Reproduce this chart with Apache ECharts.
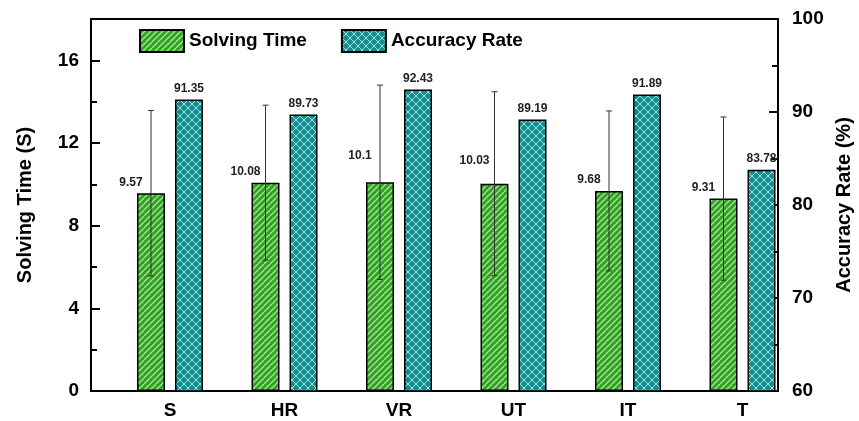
<!DOCTYPE html>
<html>
<head>
<meta charset="utf-8">
<script src="https://cdn.jsdelivr.net/npm/echarts@6/dist/echarts.min.js"></script>
<style>html,body{margin:0;padding:0;background:#fff;}#c{width:859px;height:421px;}</style>
</head>
<body>
<div id="c"></div>
<script>
var categories = ['S', 'HR', 'VR', 'UT', 'IT', 'T'];
var solvingTime = [9.57, 10.08, 10.1, 10.03, 9.68, 9.31];
var solvingTimeErr = [4.0, 3.75, 4.7, 4.45, 3.87, 3.95];
var accuracyRate = [91.35, 89.73, 92.43, 89.19, 91.89, 83.78];
var leftTickLabels = [0, 4, 8, 12, 16];
var leftMinorTicks = [2, 6, 10, 14];

var FONT = 'Arial, "Liberation Sans", sans-serif';
var BAR_W = 28, BAR_GAP = 10;

function makePattern(bg, fg, size, both, lw) {
  var c = document.createElement('canvas');
  c.width = size; c.height = size;
  var g = c.getContext('2d');
  g.fillStyle = bg; g.fillRect(0, 0, size, size);
  g.strokeStyle = fg; g.lineWidth = lw;
  function seg(x1, y1, x2, y2) { g.beginPath(); g.moveTo(x1, y1); g.lineTo(x2, y2); g.stroke(); }
  for (var k = -1; k <= 1; k++) {
    seg(k * size, size, k * size + size, 0);
    if (both) seg(k * size, 0, k * size + size, size);
  }
  return c;
}
var greenPat = makePattern('#32a226', 'rgba(190,240,170,0.85)', 6, false, 1.3);
var tealPat = makePattern('#138d8d', 'rgba(175,235,235,0.9)', 8, true, 1);

var labelOffsetY = { VR: -16, UT: -12 };

var greenData = solvingTime.map(function (v, i) {
  return {
    value: [i + 1, v],
    label: { offset: [-20, labelOffsetY[categories[i]] || 0] }
  };
});
var tealData = accuracyRate.map(function (v, i) { return [i + 1, v]; });
var errData = solvingTime.map(function (v, i) { return [i + 1, v, solvingTimeErr[i]]; });

var chart = echarts.init(document.getElementById('c'), null, { renderer: 'canvas' });
var axisLine = { show: true, lineStyle: { color: '#000', width: 2 } };
var tickLabel = { color: '#000', fontSize: 19, fontWeight: 'bold', fontFamily: FONT };
var nameStyle = { color: '#000', fontSize: 20, fontWeight: 'bold', fontFamily: FONT };

chart.setOption({
  animation: false,
  backgroundColor: '#fff',
  grid: { left: 91, right: 81, top: 19, bottom: 30, containLabel: false, outerBoundsMode: 'none',
          show: true, borderColor: '#000', borderWidth: 2 },
  legend: {
    left: 134, top: 24, icon: 'rect', itemWidth: 44, itemHeight: 22, itemGap: 34,
    data: ['Solving Time', 'Accuracy Rate'],
    textStyle: { color: '#000', fontSize: 19, fontWeight: 'bold', fontFamily: FONT }
  },
  xAxis: {
    type: 'value', min: 0.31, max: 6.31,
    axisLine: axisLine,
    axisTick: { show: false },
    splitLine: { show: false },
    axisLabel: Object.assign({}, tickLabel, {
      customValues: categories.map(function (c, i) { return i + 1; }),
      formatter: function (v) { return categories[Math.round(v) - 1]; },
      margin: 10
    })
  },
  yAxis: [
    {
      type: 'value', min: 0, max: 18, position: 'left',
      name: 'Solving Time (S)', nameLocation: 'middle', nameGap: 56, nameTextStyle: nameStyle,
      axisLine: axisLine,
      axisTick: { show: true, inside: true, length: 9, customValues: leftTickLabels, lineStyle: { color: '#000', width: 2 } },
      axisLabel: Object.assign({}, tickLabel, { customValues: leftTickLabels, margin: 12 }),
      splitLine: { show: false }
    },
    {
      type: 'value', min: 60, max: 100, interval: 10, position: 'right',
      name: 'Accuracy Rate (%)', nameLocation: 'middle', nameGap: 56, nameRotate: 90, nameTextStyle: nameStyle,
      axisLine: axisLine,
      axisTick: { show: true, inside: true, length: 9, lineStyle: { color: '#000', width: 2 } },
      minorTick: { show: true, splitNumber: 2, length: 6, lineStyle: { color: '#000', width: 2 } },
      axisLabel: Object.assign({}, tickLabel, { margin: 14 }),
      splitLine: { show: false }
    },
    {
      type: 'value', min: 0, max: 18, position: 'left',
      axisLine: { show: false },
      axisTick: { show: true, inside: true, length: 6, customValues: leftMinorTicks, lineStyle: { color: '#000', width: 2 } },
      axisLabel: { show: false },
      splitLine: { show: false }
    }
  ],
  series: [
    {
      name: 'Solving Time', type: 'bar', xAxisIndex: 0, yAxisIndex: 0,
      barWidth: BAR_W, barGap: (BAR_GAP / BAR_W * 100) + '%',
      itemStyle: { color: { image: greenPat, repeat: 'repeat' }, borderColor: '#000', borderWidth: 1.5 },
      label: { show: true, position: 'top', distance: 5, color: '#222', fontSize: 12, fontWeight: 'bold', fontFamily: FONT },
      data: greenData, z: 2
    },
    {
      name: 'Accuracy Rate', type: 'bar', xAxisIndex: 0, yAxisIndex: 1,
      barWidth: BAR_W,
      itemStyle: { color: { image: tealPat, repeat: 'repeat' }, borderColor: '#000', borderWidth: 1.5 },
      label: { show: true, position: 'top', distance: 5, color: '#222', fontSize: 12, fontWeight: 'bold', fontFamily: FONT },
      data: tealData, z: 2
    },
    {
      name: 'err', type: 'custom', xAxisIndex: 0, yAxisIndex: 0, z: 5,
      encode: { x: 0, y: 1 },
      renderItem: function (params, api) {
        var x = api.value(0), y = api.value(1), e = api.value(2);
        var off = (BAR_W + BAR_GAP) / 2;
        var t = api.coord([x, y + e]), b = api.coord([x, y - e]);
        var cx = t[0] - off, cap = 3;
        var st = { stroke: '#333', lineWidth: 1 };
        return {
          type: 'group',
          children: [
            { type: 'line', shape: { x1: cx, y1: t[1], x2: cx, y2: b[1] }, style: st },
            { type: 'line', shape: { x1: cx - cap, y1: t[1], x2: cx + cap, y2: t[1] }, style: st },
            { type: 'line', shape: { x1: cx - cap, y1: b[1], x2: cx + cap, y2: b[1] }, style: st }
          ]
        };
      },
      data: errData
    }
  ]
});
</script>
</body>
</html>
